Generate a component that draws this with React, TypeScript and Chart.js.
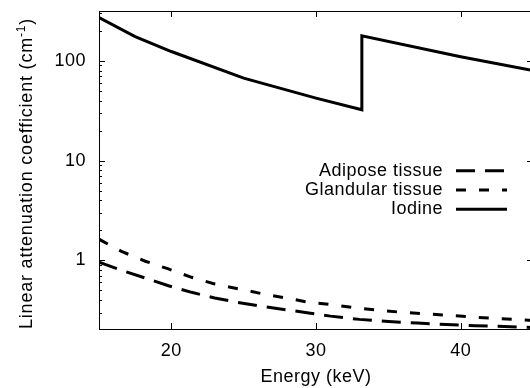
import React, { useEffect, useRef } from "react";
import { Chart, registerables } from "chart.js";

Chart.register(...registerables);

// ---- data ----
const ENERGY_ADIPOSE = [15, 16.6, 18.2, 19.8, 21.4, 23, 24.6, 26.2, 27.9, 29.5, 31, 33, 35, 37, 39, 41, 43, 45];
const ADIPOSE = [0.96, 0.79, 0.665, 0.557, 0.478, 0.42, 0.378, 0.347, 0.32, 0.297, 0.276, 0.256, 0.244, 0.235, 0.227, 0.221, 0.217, 0.212];

const ENERGY_GLANDULAR = [15, 16.6, 18.2, 19.8, 21.4, 23, 24.6, 26.2, 27.9, 29.5, 31.2, 32.8, 34.4, 36.1, 37.8, 39.5, 41.1, 42.8, 45];
const GLANDULAR = [1.63, 1.22, 0.98, 0.82, 0.676, 0.58, 0.52, 0.465, 0.42, 0.38, 0.358, 0.333, 0.315, 0.3, 0.29, 0.279, 0.268, 0.26, 0.25];

const ENERGY_IODINE = [15, 17.5, 20, 25, 30, 33.17, 33.17, 40, 45];
const IODINE = [272, 175, 124, 67, 42.3, 32.3, 178, 110, 80];

const SERIES_LABELS = ["Adipose tissue", "Glandular tissue", "Iodine"];
const X_TICKS = [20, 30, 40];
const Y_TICKS = [1, 10, 100];
const Y_DECADES = [0.1, 1, 10, 100];
const X_TITLE = "Energy (keV)";
const Y_TITLE_MAIN = "Linear attenuation coefficient (cm";
const Y_TITLE_SUP = "-1";
const Y_TITLE_END = ")";

const FONT_FAMILY = "'Liberation Sans', Arial, Helvetica, sans-serif";
const FONT = { family: FONT_FAMILY, size: 18 };

const framePlugin = {
  id: "gnuplotFrame",
  beforeDraw(chart: any) {
    const ctx = chart.ctx;
    try {
      (ctx as any).letterSpacing = "0.5px";
    } catch (e) {}
  },
  afterDatasetsDraw(chart: any) {
    const ctx = chart.ctx as CanvasRenderingContext2D;
    const { left, right, top, bottom } = chart.chartArea;
    const xs = chart.scales.x;
    const ys = chart.scales.y;
    ctx.save();
    ctx.strokeStyle = "#000";
    ctx.lineWidth = 1;
    ctx.setLineDash([]);
    ctx.beginPath();
    // x ticks (bottom and mirrored top)
    for (const v of X_TICKS) {
      const px = Math.round(xs.getPixelForValue(v)) + 0.5;
      ctx.moveTo(px, bottom);
      ctx.lineTo(px, bottom - 6);
      ctx.moveTo(px, top);
      ctx.lineTo(px, top + 6);
    }
    // y major ticks
    for (const v of Y_TICKS) {
      const py = Math.round(ys.getPixelForValue(v)) + 0.5;
      ctx.moveTo(left, py);
      ctx.lineTo(left + 6, py);
      ctx.moveTo(right, py);
      ctx.lineTo(right - 6, py);
    }
    // y minor ticks
    for (const d of Y_DECADES) {
      for (let m = 2; m <= 9; m++) {
        const v = d * m;
        if (v < ys.min || v > ys.max) continue;
        const py = Math.round(ys.getPixelForValue(v)) + 0.5;
        ctx.moveTo(left, py);
        ctx.lineTo(left + 3, py);
        ctx.moveTo(right, py);
        ctx.lineTo(right - 3, py);
      }
    }
    ctx.stroke();
    // frame
    ctx.strokeRect(left + 0.5, top + 0.5, right - left, bottom - top);

    // legend (inside, text right-aligned left of the sample)
    const textRight = 443;
    const lineX0 = 456;
    const lineX1 = 507;
    const rowY0 = 170.7;
    const rowStep = 19.3;
    ctx.font = `18px ${FONT_FAMILY}`;
    ctx.fillStyle = "#000";
    ctx.textAlign = "right";
    ctx.textBaseline = "middle";
    chart.data.datasets.forEach((ds: any, i: number) => {
      const y = rowY0 + i * rowStep;
      ctx.fillText(ds.label, textRight, y);
      ctx.beginPath();
      ctx.setLineDash(ds.borderDash || []);
      ctx.lineWidth = 3;
      ctx.moveTo(lineX0, y);
      ctx.lineTo(lineX1, y);
      ctx.stroke();
    });
    ctx.setLineDash([]);

    // y title with superscript
    try {
      (ctx as any).letterSpacing = "0.8px";
    } catch (e) {}
    ctx.font = `18px ${FONT_FAMILY}`;
    const w1 = ctx.measureText(Y_TITLE_MAIN).width;
    const w3 = ctx.measureText(Y_TITLE_END).width;
    ctx.font = `12px ${FONT_FAMILY}`;
    const w2 = ctx.measureText(Y_TITLE_SUP).width;
    const total = w1 + w2 + w3;
    ctx.translate(31.5, (top + bottom) / 2 + 3.5);
    ctx.rotate(-Math.PI / 2);
    ctx.textAlign = "left";
    ctx.textBaseline = "alphabetic";
    let x = -total / 2;
    ctx.font = `18px ${FONT_FAMILY}`;
    ctx.fillText(Y_TITLE_MAIN, x, 0);
    x += w1;
    ctx.font = `12px ${FONT_FAMILY}`;
    ctx.fillText(Y_TITLE_SUP, x, -7);
    x += w2;
    ctx.font = `18px ${FONT_FAMILY}`;
    ctx.fillText(Y_TITLE_END, x, 0);
    ctx.restore();
  },
};

export default function App() {
  const canvasRef = useRef<HTMLCanvasElement | null>(null);

  useEffect(() => {
    const canvas = canvasRef.current;
    if (!canvas) return;
    const mk = (xs: number[], ys: number[]) => xs.map((x, i) => ({ x, y: ys[i] }));
    const chart = new Chart(canvas, {
      type: "line",
      data: {
        datasets: [
          {
            label: SERIES_LABELS[0],
            data: mk(ENERGY_ADIPOSE, ADIPOSE),
            borderColor: "#000",
            borderWidth: 3,
            borderDash: [19, 10],
            pointRadius: 0,
            tension: 0,
            fill: false,
          },
          {
            label: SERIES_LABELS[1],
            data: mk(ENERGY_GLANDULAR, GLANDULAR),
            borderColor: "#000",
            borderWidth: 3,
            borderDash: [10, 13],
            pointRadius: 0,
            tension: 0,
            fill: false,
          },
          {
            label: SERIES_LABELS[2],
            data: mk(ENERGY_IODINE, IODINE),
            borderColor: "#000",
            borderWidth: 3,
            pointRadius: 0,
            tension: 0,
            fill: false,
          },
        ],
      },
      options: {
        responsive: false,
        animation: false,
        layout: { padding: { top: 11, left: 0, right: 1, bottom: 0 } },
        plugins: {
          legend: { display: false },
          tooltip: { enabled: false },
        },
        scales: {
          x: {
            type: "linear",
            min: 15,
            max: 45,
            afterBuildTicks: (s: any) => {
              s.ticks = X_TICKS.map((v) => ({ value: v }));
            },
            afterFit: (s: any) => {
              s.height = 59;
              s.paddingLeft = 0;
              s.paddingRight = 0;
            },
            grid: { display: false, drawTicks: false },
            border: { display: false },
            ticks: {
              color: "#000",
              font: FONT,
              padding: 11,
              maxRotation: 0,
              autoSkip: false,
              callback: (v: any) => String(v),
            },
            title: {
              display: true,
              text: X_TITLE,
              color: "#000",
              font: FONT,
              padding: { top: 0, bottom: 0 },
            },
          },
          y: {
            type: "logarithmic",
            min: 0.205,
            max: 316,
            afterBuildTicks: (s: any) => {
              s.ticks = Y_TICKS.map((v) => ({ value: v }));
            },
            afterFit: (s: any) => {
              s.width = 99;
              s.paddingTop = 0;
              s.paddingBottom = 0;
            },
            grid: { display: false, drawTicks: false },
            border: { display: false },
            ticks: {
              color: "#000",
              font: FONT,
              padding: 13,
              autoSkip: false,
              callback: (v: any) => String(v),
            },
            title: { display: false },
          },
        },
      },
      plugins: [framePlugin],
    } as any);
    return () => chart.destroy();
  }, []);

  return (
    <div
      style={{
        position: "fixed",
        left: 0,
        top: 0,
        width: 530,
        height: 388,
        overflow: "hidden",
        background: "#fff",
      }}
    >
      <canvas ref={canvasRef} width={534} height={388} style={{ display: "block" }} />
    </div>
  );
}
